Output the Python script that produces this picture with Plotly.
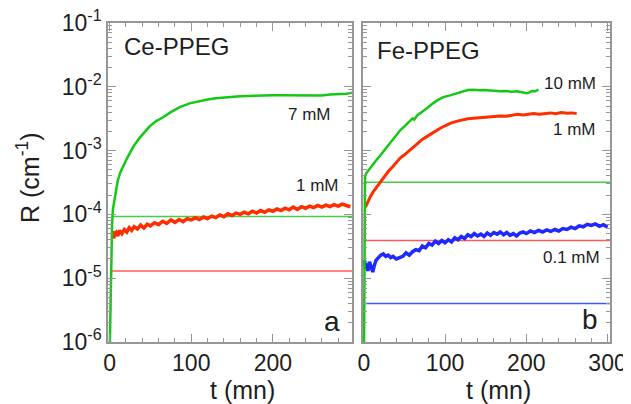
import plotly.graph_objects as go

# ---------------- data ----------------
# Panel a: Ce-PPEG
t_a_7mM = [0.3, 1, 2, 3, 4, 6, 8, 10, 13, 16, 20, 25, 30, 37, 43, 49, 57, 65, 75, 86, 98,
           110, 120, 130, 140, 150, 160, 170, 180, 190, 200, 210, 220, 230, 240, 250, 260,
           270, 280, 290, 297]
R_a_7mM = [1e-6, 5e-6, 3e-5, 7e-5, 1.2e-4, 1.8e-4, 2.6e-4, 3.4e-4, 4.5e-4, 5.5e-4, 7.0e-4,
           9.3e-4, 1.2e-3, 1.6e-3, 2.0e-3, 2.4e-3, 2.9e-3, 3.3e-3, 4.0e-3, 4.8e-3, 5.5e-3,
           6.0e-3, 6.3e-3, 6.6e-3, 6.8e-3, 7.0e-3, 7.1e-3, 7.2e-3, 7.3e-3, 7.3e-3, 7.4e-3,
           7.4e-3, 7.4e-3, 7.3e-3, 7.5e-3, 7.5e-3, 7.3e-3, 7.6e-3, 7.7e-3, 7.8e-3, 8.1e-3]

t_a_1mM = [4, 5, 6, 8, 10, 12, 15, 18, 21, 24, 27, 30, 34, 38, 42, 46, 50, 55, 60, 65, 70,
           75, 80, 85, 90, 95, 100, 105, 110, 115, 120, 125, 130, 135, 140, 145, 150, 155,
           160, 165, 170, 175, 180, 185, 190, 195, 200, 205, 210, 215, 220, 225, 230, 235,
           240, 245, 250, 255, 260, 265, 270, 275, 280, 285, 290, 295]
R_a_1mM = [5.5e-5, 4.2e-5, 4.8e-5, 5.2e-5, 4.6e-5, 5.6e-5, 5.0e-5, 5.8e-5, 5.3e-5, 6.2e-5,
           5.6e-5, 6.4e-5, 5.9e-5, 6.8e-5, 6.1e-5, 7.0e-5, 6.6e-5, 7.4e-5, 6.9e-5, 7.8e-5,
           7.2e-5, 8.2e-5, 7.5e-5, 8.3e-5, 7.7e-5, 8.6e-5, 8.2e-5, 8.9e-5, 8.3e-5, 9.1e-5,
           8.6e-5, 9.4e-5, 8.9e-5, 9.8e-5, 9.2e-5, 1.02e-4, 9.6e-5, 1.05e-4, 1.0e-4, 1.08e-4,
           1.02e-4, 1.12e-4, 1.05e-4, 1.15e-4, 1.08e-4, 1.18e-4, 1.12e-4, 1.22e-4, 1.15e-4,
           1.25e-4, 1.18e-4, 1.30e-4, 1.20e-4, 1.32e-4, 1.25e-4, 1.35e-4, 1.28e-4, 1.38e-4,
           1.30e-4, 1.40e-4, 1.33e-4, 1.42e-4, 1.35e-4, 1.45e-4, 1.38e-4, 1.32e-4]

t_a_ref = [2, 297]
R_a_ref_7mM = [9.3e-5, 9.3e-5]
R_a_ref_1mM = [1.3e-5, 1.3e-5]

# Panel b: Fe-PPEG
t_b_10mM = [0.3, 0.8, 1.5, 3, 6, 10, 15, 20, 25, 30, 35, 40, 45, 50, 55, 58, 60, 62, 66, 70,
            76, 81, 86, 92, 98, 107, 115, 122, 128, 135, 142, 148, 155, 162, 168, 175, 182,
            189, 195, 200, 203, 207, 211, 215]
R_b_10mM = [1e-6, 3e-4, 4.0e-4, 4.4e-4, 5.0e-4, 5.8e-4, 7.0e-4, 8.3e-4, 1.0e-3, 1.2e-3,
            1.4e-3, 1.7e-3, 2.1e-3, 2.4e-3, 2.8e-3, 3.0e-3, 3.2e-3, 3.05e-3, 3.6e-3, 3.9e-3,
            4.5e-3, 5.1e-3, 5.6e-3, 6.3e-3, 6.9e-3, 7.4e-3, 8.0e-3, 8.6e-3, 8.9e-3, 9.0e-3,
            8.8e-3, 8.9e-3, 8.7e-3, 8.6e-3, 8.5e-3, 8.6e-3, 8.4e-3, 8.5e-3, 8.2e-3, 7.9e-3,
            8.1e-3, 8.6e-3, 8.5e-3, 9.0e-3]

t_b_1mM = [2, 4, 8, 12, 16, 20, 25, 30, 35, 40, 45, 50, 55, 60, 66, 72, 79, 86, 93, 100, 107,
           115, 122, 128, 135, 142, 148, 155, 162, 168, 175, 182, 189, 196, 203, 209, 216,
           223, 230, 236, 243, 250, 256, 262]
R_b_1mM = [1.3e-4, 1.5e-4, 1.9e-4, 2.3e-4, 2.7e-4, 3.2e-4, 4.0e-4, 4.7e-4, 5.5e-4, 6.5e-4,
           7.7e-4, 8.6e-4, 9.8e-4, 1.1e-3, 1.28e-3, 1.5e-3, 1.7e-3, 1.95e-3, 2.2e-3, 2.45e-3,
           2.7e-3, 2.9e-3, 3.05e-3, 3.15e-3, 3.2e-3, 3.25e-3, 3.3e-3, 3.35e-3, 3.4e-3, 3.5e-3,
           3.45e-3, 3.55e-3, 3.7e-3, 3.6e-3, 3.75e-3, 3.8e-3, 3.7e-3, 3.85e-3, 3.9e-3, 3.8e-3,
           3.95e-3, 3.85e-3, 3.9e-3, 3.8e-3]

t_b_01mM = [1, 2, 3, 5, 7, 9, 11, 13, 15, 18, 21, 24, 27, 30, 33, 36, 40, 44, 48, 52, 56, 60,
            64, 68, 72, 76, 80, 84, 88, 92, 96, 100, 104, 108, 112, 116, 120, 124, 128, 132,
            136, 140, 144, 148, 152, 156, 160, 164, 168, 172, 176, 180, 184, 188, 192, 196,
            200, 205, 210, 215, 220, 225, 230, 235, 240, 245, 250, 255, 260, 265, 270, 275,
            280, 285, 290, 295, 300]
R_b_01mM = [1.9e-5, 1.4e-5, 1.7e-5, 1.3e-5, 1.8e-5, 1.5e-5, 1.25e-5, 1.6e-5, 1.9e-5, 2.1e-5,
            2.3e-5, 2.4e-5, 2.2e-5, 2.3e-5, 2.1e-5, 2.2e-5, 2.0e-5, 2.1e-5, 2.2e-5, 2.5e-5,
            2.3e-5, 2.6e-5, 2.8e-5, 2.7e-5, 3.2e-5, 3.0e-5, 3.5e-5, 3.3e-5, 3.8e-5, 3.5e-5,
            3.9e-5, 3.6e-5, 4.0e-5, 3.7e-5, 4.3e-5, 4.0e-5, 4.5e-5, 4.2e-5, 4.8e-5, 4.5e-5,
            5.0e-5, 4.6e-5, 4.9e-5, 4.5e-5, 5.1e-5, 4.7e-5, 5.2e-5, 4.9e-5, 5.3e-5, 4.8e-5,
            5.2e-5, 4.7e-5, 5.0e-5, 4.6e-5, 5.1e-5, 5.3e-5, 5.0e-5, 5.5e-5, 5.2e-5, 5.6e-5,
            5.3e-5, 5.7e-5, 5.4e-5, 5.8e-5, 5.5e-5, 6.0e-5, 5.8e-5, 6.3e-5, 6.0e-5, 6.6e-5,
            6.4e-5, 7.0e-5, 6.7e-5, 7.1e-5, 6.5e-5, 6.9e-5, 6.3e-5]

t_b_ref = [0, 303]
R_b_ref_10mM = [3.2e-4, 3.2e-4]
R_b_ref_1mM = [3.9e-5, 3.9e-5]
R_b_ref_01mM = [4.0e-6, 4.0e-6]

y_tick_vals = [1e-6, 1e-5, 1e-4, 1e-3, 1e-2, 1e-1]
y_tick_text = ["10<sup>-6</sup>", "10<sup>-5</sup>", "10<sup>-4</sup>",
               "10<sup>-3</sup>", "10<sup>-2</sup>", "10<sup>-1</sup>"]
x_tick_vals_a = [0, 100, 200]
x_tick_vals_b = [0, 100, 200, 300]

# ---------------- styling ----------------
GREEN = "rgb(20,200,20)"
RED = "rgb(255,45,0)"
BLUE = "rgb(30,40,255)"
GREEN_REF = "rgb(70,205,70)"
RED_REF = "rgb(255,90,90)"
BLUE_REF = "rgb(60,90,255)"
FRAME = "rgb(150,150,150)"
FONT = "Liberation Sans, Arial, sans-serif"
TXT = "rgb(30,30,30)"

W, H = 631, 404
OFF = 8  # page body margin offset
# target plot area on screen: x 108..610, y 23..342
ML = 108 - OFF
MT = 23 - OFF
MR = W - (610 - OFF)
MB = H - (342 - OFF)


def px(x):
    return (x - OFF - ML) / (W - ML - MR)


def py(y):
    return (H - MB - (y - OFF)) / (H - MT - MB)


fig = go.Figure()

# reference (horizontal) lines
fig.add_trace(go.Scatter(x=t_a_ref, y=R_a_ref_7mM, mode="lines", line=dict(color=GREEN_REF, width=1.5), xaxis="x", yaxis="y"))
fig.add_trace(go.Scatter(x=t_a_ref, y=R_a_ref_1mM, mode="lines", line=dict(color=RED_REF, width=1.5), xaxis="x", yaxis="y"))
fig.add_trace(go.Scatter(x=t_b_ref, y=R_b_ref_10mM, mode="lines", line=dict(color=GREEN_REF, width=1.5), xaxis="x2", yaxis="y2"))
fig.add_trace(go.Scatter(x=t_b_ref, y=R_b_ref_1mM, mode="lines", line=dict(color=RED_REF, width=1.5), xaxis="x2", yaxis="y2"))
fig.add_trace(go.Scatter(x=t_b_ref, y=R_b_ref_01mM, mode="lines", line=dict(color=BLUE_REF, width=1.5), xaxis="x2", yaxis="y2"))

# kinetics curves
fig.add_trace(go.Scatter(x=t_a_1mM, y=R_a_1mM, mode="lines", line=dict(color=RED, width=3.5), xaxis="x", yaxis="y"))
fig.add_trace(go.Scatter(x=t_a_7mM, y=R_a_7mM, mode="lines", line=dict(color=GREEN, width=2.5), xaxis="x", yaxis="y"))
fig.add_trace(go.Scatter(x=t_b_01mM, y=R_b_01mM, mode="lines", line=dict(color=BLUE, width=3.5), xaxis="x2", yaxis="y2"))
fig.add_trace(go.Scatter(x=t_b_1mM, y=R_b_1mM, mode="lines", line=dict(color=RED, width=3), xaxis="x2", yaxis="y2"))
fig.add_trace(go.Scatter(x=t_b_10mM, y=R_b_10mM, mode="lines", line=dict(color=GREEN, width=2.5), xaxis="x2", yaxis="y2"))

minor_log = [m * d for d in [1e-6, 1e-5, 1e-4, 1e-3, 1e-2] for m in range(2, 10)]

common_x = dict(showline=True, linecolor=FRAME, linewidth=1.5, mirror="ticks",
                ticks="inside", ticklen=8, tickcolor=FRAME, tickwidth=1,
                showgrid=False, zeroline=False, automargin=False,
                ticklabeloverflow="allow",
                tickfont=dict(family=FONT, size=23, color=TXT),
                minor=dict(dtick=20, ticks="inside", ticklen=4, tickcolor=FRAME, showgrid=False))
common_y = dict(type="log", range=[-6, -1], showline=True, linecolor=FRAME, linewidth=1.5,
                mirror="ticks", ticks="inside", ticklen=8, tickcolor=FRAME, tickwidth=1,
                showgrid=False, zeroline=False, automargin=False,
                ticklabeloverflow="allow",
                minor=dict(tickvals=minor_log, ticks="inside", ticklen=4, tickcolor=FRAME, showgrid=False))

fig.update_layout(
    width=W, height=H,
    margin=dict(l=ML, r=MR, t=MT, b=MB, autoexpand=False),
    paper_bgcolor="white", plot_bgcolor="white",
    showlegend=False,
    xaxis=dict(domain=[0, px(352)], range=[-2, 297], tickvals=x_tick_vals_a, anchor="y", **common_x),
    yaxis=dict(domain=[0, 1], anchor="x", tickvals=y_tick_vals, ticktext=y_tick_text,
               tickfont=dict(family=FONT, size=23, color=TXT), **common_y),
    xaxis2=dict(domain=[px(363), 1], range=[-1, 303], tickvals=x_tick_vals_b, anchor="y2", **common_x),
    yaxis2=dict(domain=[0, 1], anchor="x2", tickvals=y_tick_vals, showticklabels=False, **common_y),
)

ann = [
    dict(text="R (cm<sup>-1</sup>)", x=px(28), y=py(178), textangle=-90, size=25, xa="center"),
    dict(text="t (mn)", x=px(242), y=py(390), size=25, xa="center"),
    dict(text="t (mn)", x=px(498), y=py(390), size=25, xa="center"),
    dict(text="Ce-PPEG", x=px(122), y=py(47), size=24, xa="left"),
    dict(text="Fe-PPEG", x=px(375), y=py(50), size=24, xa="left"),
    dict(text="7 mM", x=px(333), y=py(115), size=17, xa="right"),
    dict(text="1 mM", x=px(341), y=py(185), size=17, xa="right"),
    dict(text="10 mM", x=px(598), y=py(83), size=17, xa="right"),
    dict(text="1 mM", x=px(598), y=py(130), size=17, xa="right"),
    dict(text="0.1 mM", x=px(602), y=py(257), size=17, xa="right"),
    dict(text="a", x=px(332), y=py(321), size=28, xa="center"),
    dict(text="b", x=px(590), y=py(319), size=28, xa="center"),
]
for a in ann:
    fig.add_annotation(text=a["text"], x=a["x"], y=a["y"], xref="paper", yref="paper",
                       xanchor=a["xa"], yanchor="middle", showarrow=False,
                       textangle=a.get("textangle", 0),
                       font=dict(family=FONT, size=a["size"], color=TXT))

fig.write_html("out.html")
